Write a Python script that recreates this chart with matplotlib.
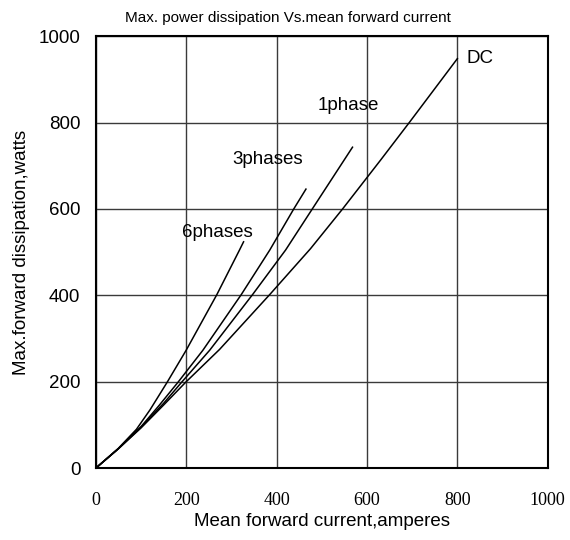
import matplotlib.pyplot as plt

# curves (x = mean forward current A, y = max dissipation W)
dc_x = [0, 50, 100, 150, 199, 274, 385, 475, 546, 630, 695, 800]
dc_y = [0, 45, 93, 146, 199, 275, 402, 508, 600, 713, 802, 948]
ph1_x = [0, 50, 100, 150, 190, 252, 347, 420, 479, 568]
ph1_y = [0, 45, 95, 150, 199, 273, 402, 505, 600, 743]
ph3_x = [0, 50, 100, 140, 182, 237, 322, 385, 438, 465]
ph3_y = [0, 45, 96, 145, 199, 273, 402, 505, 600, 646]
ph6_x = [0, 50, 90, 120, 158, 200, 268, 318, 327]
ph6_y = [0, 46, 90, 135, 199, 273, 402, 505, 524]

labels = ["DC", "1phase", "3phases", "6phases"]
label_x = [821, 490, 302, 190]
label_y = [938, 830, 705, 534]

ticks = [0, 200, 400, 600, 800, 1000]

sans = ["Liberation Sans", "DejaVu Sans"]

fig = plt.figure(figsize=(5.7, 5.4), dpi=100)
ax = fig.add_axes([0.168, 0.133, 0.793, 0.8])

for xs, ys in [(dc_x, dc_y), (ph1_x, ph1_y), (ph3_x, ph3_y), (ph6_x, ph6_y)]:
    ax.plot(xs, ys, color="black", lw=1.1)

for t, x, y in zip(labels, label_x, label_y):
    ax.text(x, y, t, fontsize=13.5, family=sans, va="baseline", ha="left")

ax.set_xlim(0, 1000)
ax.set_ylim(0, 1000)
ax.set_xticks(ticks)
ax.set_yticks(ticks)
ax.set_xticklabels([str(t) for t in ticks], family=["Liberation Serif", "DejaVu Serif"], fontsize=13)
ax.set_yticklabels([str(t) for t in ticks], family=sans, fontsize=13.5)
ax.tick_params(length=0)
ax.tick_params(axis="x", pad=17)
ax.tick_params(axis="y", pad=11)
ax.grid(True, color="#3a3a3a", lw=1.0)
for s in ax.spines.values():
    s.set_linewidth(1.5)

ax.set_xlabel("Mean forward current,amperes", family=sans, fontsize=13.5, labelpad=3)
ax.set_ylabel("Max.forward dissipation,watts", family=sans, fontsize=13.5, labelpad=6)
ax.set_title("Max. power dissipation Vs.mean forward current",
             family=sans, fontsize=11, pad=10, x=0.426)

fig.savefig("out.png", dpi=100)
